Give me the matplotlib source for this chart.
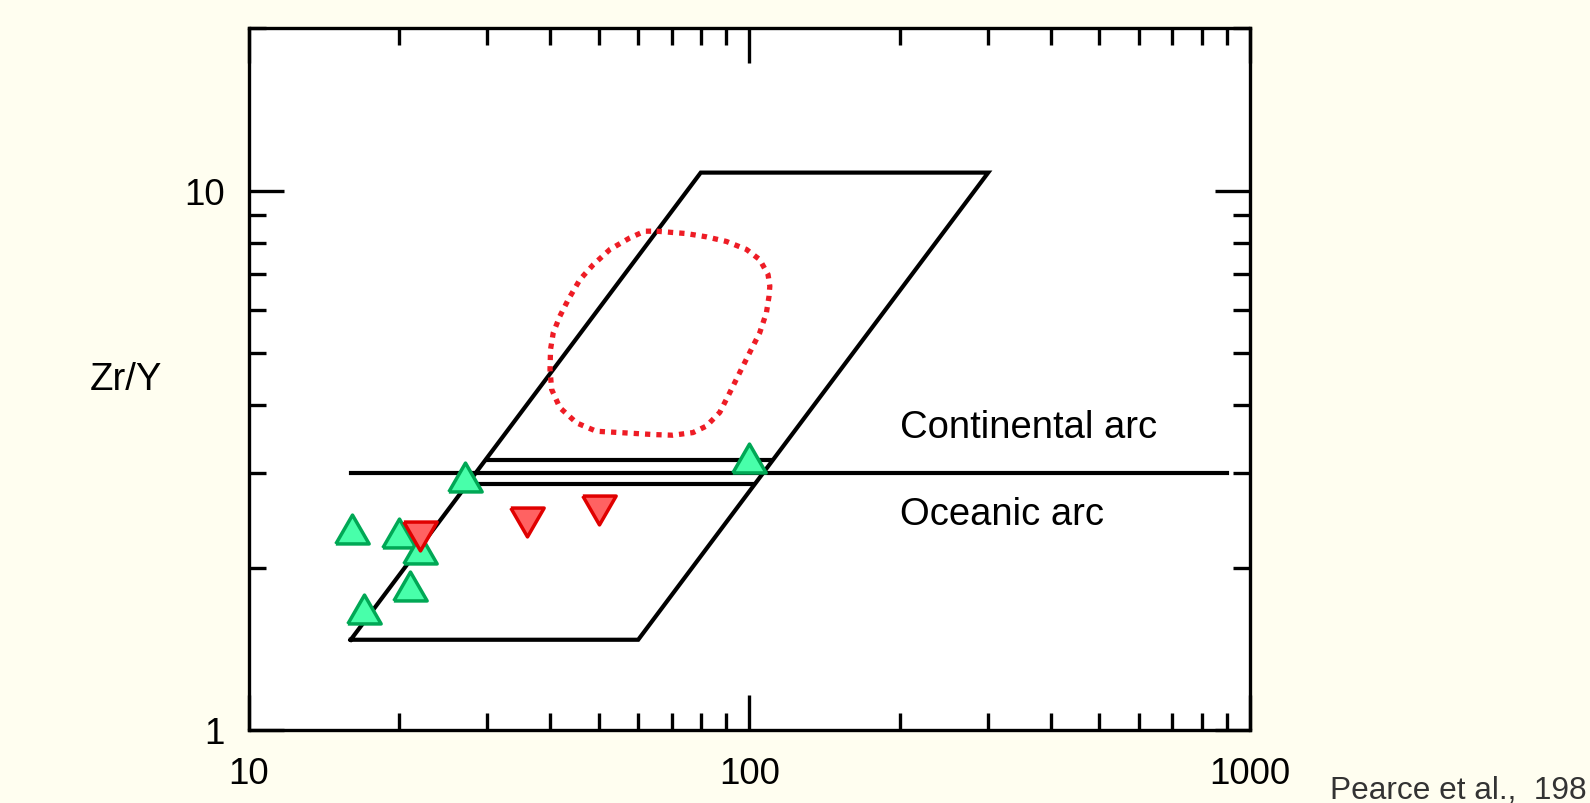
import matplotlib
matplotlib.use("Agg")
import matplotlib.pyplot as plt
from matplotlib.ticker import LogLocator, NullFormatter

plt.rcParams['font.family'] = ['Liberation Sans', 'DejaVu Sans']

# ------------------------
# Datos del diagrama (Zr vs Zr/Y)
# ------------------------
# paralelogramo del campo de arcos
campo_x = [16, 60, 300, 80, 16]
campo_y = [1.47, 1.47, 10.8, 10.8, 1.47]

# linea que separa arco continental / oceanico
limite_x = [16, 900]
limite_y = [3.0, 3.0]

# lineas cortas dentro del campo
banda_sup_x = [30, 110]
banda_sup_y = [3.17, 3.17]
banda_inf_x = [28.5, 101.6]
banda_inf_y = [2.855, 2.855]

# contorno punteado rojo
contorno_x = [65.3, 74.9, 82.1, 90.0, 98.7, 104.9, 109.0, 109.9, 109.5, 108.2,
              104.9, 100.2, 95.7, 91.4, 87.3, 82.1, 77.2, 70.4, 64.3, 55.1,
              49.5, 45.2, 41.85, 40.3, 40.0, 40.1, 40.6, 41.85, 43.5, 45.9,
              48.8, 52.7, 57.7, 61.8, 65.3]
contorno_y = [8.41, 8.325, 8.21, 8.05, 7.78, 7.45, 6.99, 6.65, 6.37, 5.94,
              5.45, 5.01, 4.60, 4.22, 3.88, 3.66, 3.56, 3.52, 3.53, 3.56,
              3.58, 3.71, 3.96, 4.28, 4.66, 5.08, 5.45, 5.85, 6.28, 6.84,
              7.29, 7.78, 8.17, 8.41, 8.41]

# muestras
verde_x = [16.1, 20.0, 22.0, 21.0, 17.0, 27.0, 100.0]
verde_y = [2.356, 2.314, 2.163, 1.846, 1.677, 2.94, 3.19]
rojo_x = [22.0, 36.0, 50.0]
rojo_y = [2.285, 2.43, 2.553]

xticks = [10, 100, 1000]
xtick_labels = ['10', '100', '1000']
yticks = [1, 10]
ytick_labels = ['1', '10']

# ------------------------
# Figura
# ------------------------
fig = plt.figure(figsize=(15.9, 8.04), dpi=100, facecolor='#FFFEF0')
ax = fig.add_axes([0.1563, 0.0908, 0.6299, 0.8728])
ax.set_facecolor('white')
ax.set_xscale('log')
ax.set_yscale('log')
ax.set_xlim(10, 1000)
ax.set_ylim(1, 20)

lw = 3.0
ax.plot(campo_x, campo_y, color='black', lw=lw, solid_joinstyle='miter')
ax.plot(limite_x, limite_y, color='black', lw=lw)
ax.plot(banda_sup_x, banda_sup_y, color='black', lw=lw)
ax.plot(banda_inf_x, banda_inf_y, color='black', lw=lw)
ax.plot(contorno_x, contorno_y, color='#EE1C25', lw=3.8,
        linestyle=(0, (1, 1.15)), dash_capstyle='butt')

tri_up = [(-0.5, -0.433), (0.5, -0.433), (0, 0.433), (-0.5, -0.433)]
tri_down = [(-0.5, 0.433), (0.5, 0.433), (0, -0.433), (-0.5, 0.433)]
ax.plot(verde_x, verde_y, linestyle='none', marker=tri_up, ms=24,
        mfc='#48FFAA', mec='#00A855', mew=2.5, zorder=3)
ax.plot(rojo_x, rojo_y, linestyle='none', marker=tri_down, ms=24,
        mfc='#FF6262', mec='#E00000', mew=2.5, zorder=4)

ax.text(200, 3.5, 'Continental arc', fontsize=27.5, ha='left', va='baseline')
ax.text(200, 2.41, 'Oceanic arc', fontsize=27.5, ha='left', va='baseline')

# ejes y marcas
for s in ax.spines.values():
    s.set_linewidth(2.4)
ax.set_xticks(xticks, labels=xtick_labels)
ax.set_yticks(yticks, labels=ytick_labels)
ax.xaxis.set_minor_locator(LogLocator(base=10, subs=range(2, 10)))
ax.yaxis.set_minor_locator(LogLocator(base=10, subs=range(2, 10)))
ax.xaxis.set_minor_formatter(NullFormatter())
ax.yaxis.set_minor_formatter(NullFormatter())
ax.tick_params(which='both', direction='in', top=True, right=True, width=2.4)
ax.tick_params(which='major', length=25, labelsize=26.5)
ax.tick_params(which='minor', length=12.5)
ax.tick_params(axis='x', which='major', pad=19)
ax.tick_params(axis='y', which='major', pad=17)

ax.set_ylabel('Zr/Y', fontsize=27.5, rotation=0, ha='center', va='center')
ax.yaxis.set_label_coords(-0.122, 0.5)

fig.text(0.8366, 0.006, 'Pearce et al.,  198', fontsize=22.8,
         color='#333333', ha='left', va='baseline')

fig.savefig('out.png', dpi=100, facecolor=fig.get_facecolor())
